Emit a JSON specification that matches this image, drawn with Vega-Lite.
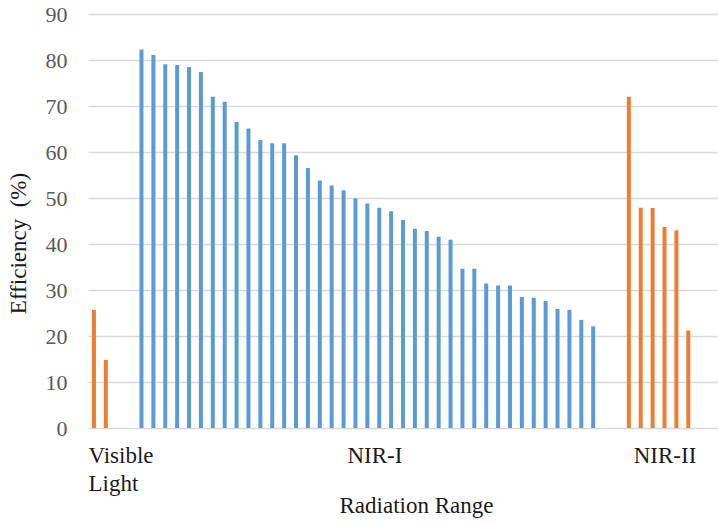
{
  "$schema": "https://vega.github.io/schema/vega-lite/v6.json",
  "width": 630,
  "height": 414,
  "autosize": {"type": "none"},
  "padding": {"left": 88, "top": 14, "right": 0, "bottom": 96},
  "background": "white",
  "config": {
    "view": {"stroke": null}
  },
  "data": {
    "values": [
      {"slot": 0, "range": "Visible Light", "efficiency": 25.7},
      {"slot": 1, "range": "Visible Light", "efficiency": 14.8},
      {"slot": 4, "range": "NIR-I", "efficiency": 82.3},
      {"slot": 5, "range": "NIR-I", "efficiency": 81.1},
      {"slot": 6, "range": "NIR-I", "efficiency": 79.1},
      {"slot": 7, "range": "NIR-I", "efficiency": 78.9},
      {"slot": 8, "range": "NIR-I", "efficiency": 78.5},
      {"slot": 9, "range": "NIR-I", "efficiency": 77.4},
      {"slot": 10, "range": "NIR-I", "efficiency": 72.0},
      {"slot": 11, "range": "NIR-I", "efficiency": 70.9},
      {"slot": 12, "range": "NIR-I", "efficiency": 66.5},
      {"slot": 13, "range": "NIR-I", "efficiency": 65.1},
      {"slot": 14, "range": "NIR-I", "efficiency": 62.6},
      {"slot": 15, "range": "NIR-I", "efficiency": 61.9},
      {"slot": 16, "range": "NIR-I", "efficiency": 61.9},
      {"slot": 17, "range": "NIR-I", "efficiency": 59.3},
      {"slot": 18, "range": "NIR-I", "efficiency": 56.5},
      {"slot": 19, "range": "NIR-I", "efficiency": 53.8},
      {"slot": 20, "range": "NIR-I", "efficiency": 52.7},
      {"slot": 21, "range": "NIR-I", "efficiency": 51.7},
      {"slot": 22, "range": "NIR-I", "efficiency": 49.9},
      {"slot": 23, "range": "NIR-I", "efficiency": 48.8},
      {"slot": 24, "range": "NIR-I", "efficiency": 47.9},
      {"slot": 25, "range": "NIR-I", "efficiency": 47.1},
      {"slot": 26, "range": "NIR-I", "efficiency": 45.2},
      {"slot": 27, "range": "NIR-I", "efficiency": 43.3},
      {"slot": 28, "range": "NIR-I", "efficiency": 42.8},
      {"slot": 29, "range": "NIR-I", "efficiency": 41.6},
      {"slot": 30, "range": "NIR-I", "efficiency": 40.9},
      {"slot": 31, "range": "NIR-I", "efficiency": 34.6},
      {"slot": 32, "range": "NIR-I", "efficiency": 34.6},
      {"slot": 33, "range": "NIR-I", "efficiency": 31.4},
      {"slot": 34, "range": "NIR-I", "efficiency": 31.0},
      {"slot": 35, "range": "NIR-I", "efficiency": 31.0},
      {"slot": 36, "range": "NIR-I", "efficiency": 28.5},
      {"slot": 37, "range": "NIR-I", "efficiency": 28.3},
      {"slot": 38, "range": "NIR-I", "efficiency": 27.6},
      {"slot": 39, "range": "NIR-I", "efficiency": 25.9},
      {"slot": 40, "range": "NIR-I", "efficiency": 25.7},
      {"slot": 41, "range": "NIR-I", "efficiency": 23.5},
      {"slot": 42, "range": "NIR-I", "efficiency": 22.1},
      {"slot": 45, "range": "NIR-II", "efficiency": 72.0},
      {"slot": 46, "range": "NIR-II", "efficiency": 47.9},
      {"slot": 47, "range": "NIR-II", "efficiency": 47.8},
      {"slot": 48, "range": "NIR-II", "efficiency": 43.7},
      {"slot": 49, "range": "NIR-II", "efficiency": 43.0},
      {"slot": 50, "range": "NIR-II", "efficiency": 21.2}
    ]
  },
  "mark": {"type": "bar", "size": 4},
  "encoding": {
    "x": {
      "field": "slot",
      "type": "quantitative",
      "scale": {"domain": [-0.5, 52.5], "nice": false, "zero": false, "padding": 0},
      "axis": {
        "title": "Radiation Range",
        "titleFont": "Liberation Serif",
        "titleFontSize": 23,
        "titleFontWeight": "normal",
        "titleColor": "#1a1a1a",
        "titleX": 328,
        "titleY": 77,
        "titleBaseline": "middle",
        "values": [-0.5, 23.6, 48],
        "labelExpr": "datum.value < 0 ? ['Visible', 'Light'] : (datum.value < 30 ? 'NIR-I' : 'NIR-II')",
        "labelAlign": {"condition": {"test": "datum.value < 0", "value": "left"}, "value": "center"},
        "labelFont": "Liberation Serif",
        "labelFontSize": 23,
        "labelColor": "#1a1a1a",
        "labelLineHeight": 28,
        "labelPadding": 16,
        "labelOverlap": false,
        "ticks": false,
        "domain": false,
        "grid": false
      }
    },
    "y": {
      "field": "efficiency",
      "type": "quantitative",
      "scale": {"domain": [0, 90], "nice": false},
      "axis": {
        "title": "Efficiency\u00a0\u00a0(%)",
        "titleFont": "Liberation Serif",
        "titleFontSize": 23,
        "titleFontWeight": "normal",
        "titleColor": "#1a1a1a",
        "titleX": -70,
        "titleY": 229,
        "titleBaseline": "middle",
        "values": [0, 10, 20, 30, 40, 50, 60, 70, 80, 90],
        "labelFont": "Liberation Serif",
        "labelFontSize": 22,
        "labelColor": "#595959",
        "labelPadding": 21,
        "ticks": false,
        "domain": false,
        "grid": true,
        "gridColor": "#d9d9d9",
        "gridWidth": 1.5
      }
    },
    "color": {
      "field": "range",
      "type": "nominal",
      "scale": {
        "domain": ["Visible Light", "NIR-I", "NIR-II"],
        "range": ["#ED7D31", "#5B9BD5", "#ED7D31"]
      },
      "legend": null
    }
  }
}
